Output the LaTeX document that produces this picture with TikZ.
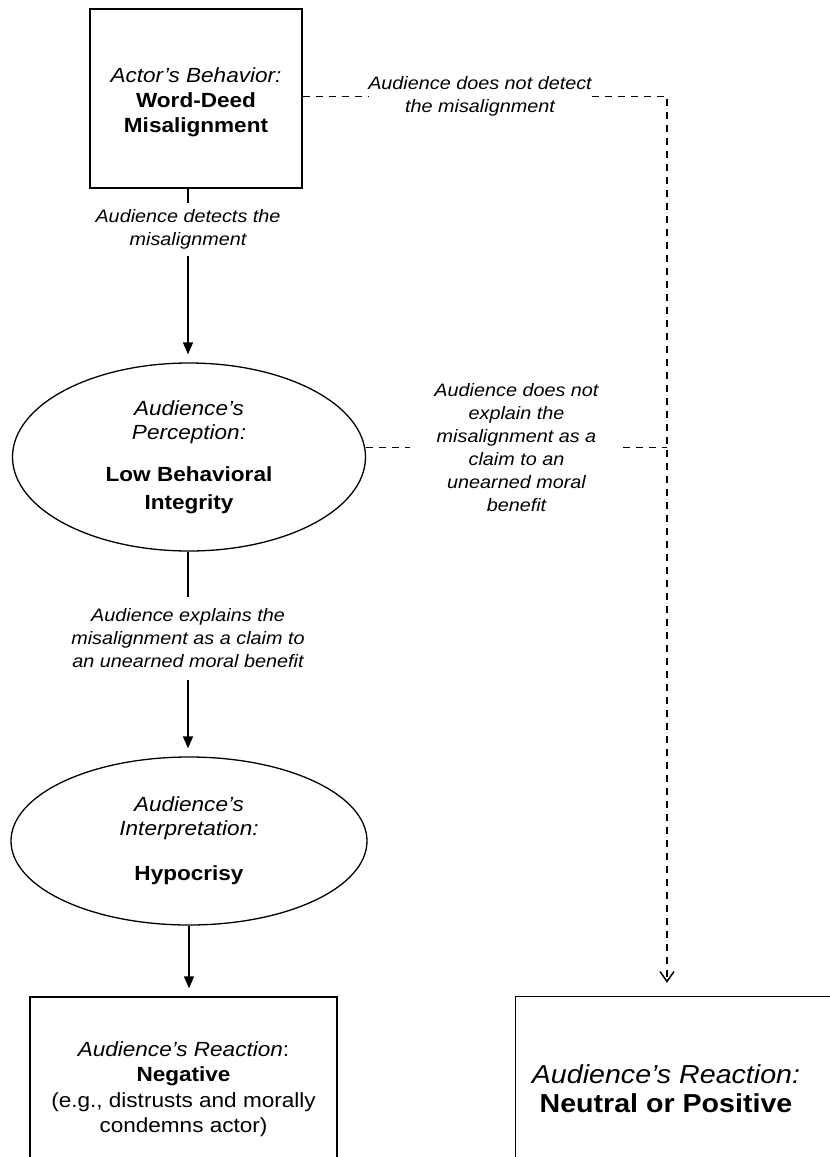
\documentclass[tikz,border=0pt]{standalone}
\usepackage{fontspec}
\setmainfont{Liberation Sans}[FakeStretch=1.1]
\usetikzlibrary{shapes.geometric,arrows.meta}
\begin{document}
\begin{tikzpicture}[x=1pt,y=-1pt,
  every node/.style={inner sep=0pt, align=center},
  boxline/.style={line width=1.3pt},
  boxnode/.style={draw, boxline, font=\fontsize{20.5}{24}\selectfont},
  ellnode/.style={ellipse, draw, boxline, font=\fontsize{20.5}{24}\selectfont},
  bignode/.style={font=\fontsize{26}{29}\selectfont},
  lbl/.style={font=\fontsize{18}{23}\selectfont\itshape},
  solidline/.style={line width=1.5pt},
  arr/.style={solidline, -{Triangle[length=12pt,width=10pt]}, shorten >=8pt},
  dashline/.style={line width=1.5pt, dash pattern=on 7pt off 6pt},
  darr/.style={dashline, -{Straight Barb[length=10pt,width=14pt]}, shorten >=14pt}]
\clip (0,0) rectangle (830,1157);
\fill[white] (0,0) rectangle (830,1157);
% nodes
\node[boxnode, font=\fontsize{20.5}{25}\selectfont, minimum width=212pt, minimum height=179pt] (act) at (196,98.5)
  {\rule{0pt}{22pt}\textit{Actor’s Behavior:}\\\textbf{Word-Deed}\\\textbf{Misalignment}};
\node[ellnode, minimum width=353pt, minimum height=188pt] (perc) at (189,457)
  {\textit{Audience’s}\\\textit{Perception:}\\[18pt]\textbf{Low Behavioral}\\[4pt]\textbf{Integrity}};
\node[ellnode, minimum width=356pt, minimum height=168pt] (interp) at (189,841)
  {\textit{Audience’s}\\\textit{Interpretation:}\\[21pt]\textbf{Hypocrisy}};
\node[boxnode, font=\fontsize{20.5}{25.5}\selectfont, minimum width=307pt, minimum height=184pt] (neg) at (183.5,1089)
  {\textit{Audience’s Reaction}:\\\textbf{Negative}\\(e.g., distrusts and morally\\condemns actor)};
\node[bignode, minimum width=300pt, minimum height=184pt] (pos) at (666,1089)
  {\textit{Audience’s Reaction:}\\\textbf{Neutral or Positive}};
\draw[boxline] ([xshift=40pt]pos.north east) -- (pos.north west) -- (pos.south west);
% labels
\node[lbl, minimum height=53pt] (l1) at (188,229.5) {Audience detects the\\misalignment};
\node[lbl, minimum height=83pt] (l2) at (188,638.5) {Audience explains the\\misalignment as a claim to\\an unearned moral benefit};
\node[lbl, minimum width=210pt] (l4) at (480,96.5) {Audience does not detect\\the misalignment};
\node[lbl, minimum width=213pt] (l5) at (516.5,447.5) {Audience does not\\explain the\\misalignment as a\\claim to an\\unearned moral\\benefit};
\coordinate (c1) at (667,96.5);
\coordinate (c2) at (c1 |- l5.east);
% connectors
\draw[solidline] (act.south -| l1.north) -- (l1.north);
\draw[arr] (l1.south) -- (l1.south |- perc.north);
\draw[solidline] (l2.north |- perc.south) -- (l2.north);
\draw[arr] (l2.south) -- (l2.south |- interp.north);
\draw[arr] (interp.south) -- (interp.south |- neg.north);
\draw[dashline] (act.east |- c1) -- (l4.west);
\draw[darr] (l4.east) -- (c1) -- (c1 |- pos.north);
\draw[dashline] (perc.east |- l5.west) -- (l5.west);
\draw[dashline] (l5.east) -- (c2);
\end{tikzpicture}
\end{document}
